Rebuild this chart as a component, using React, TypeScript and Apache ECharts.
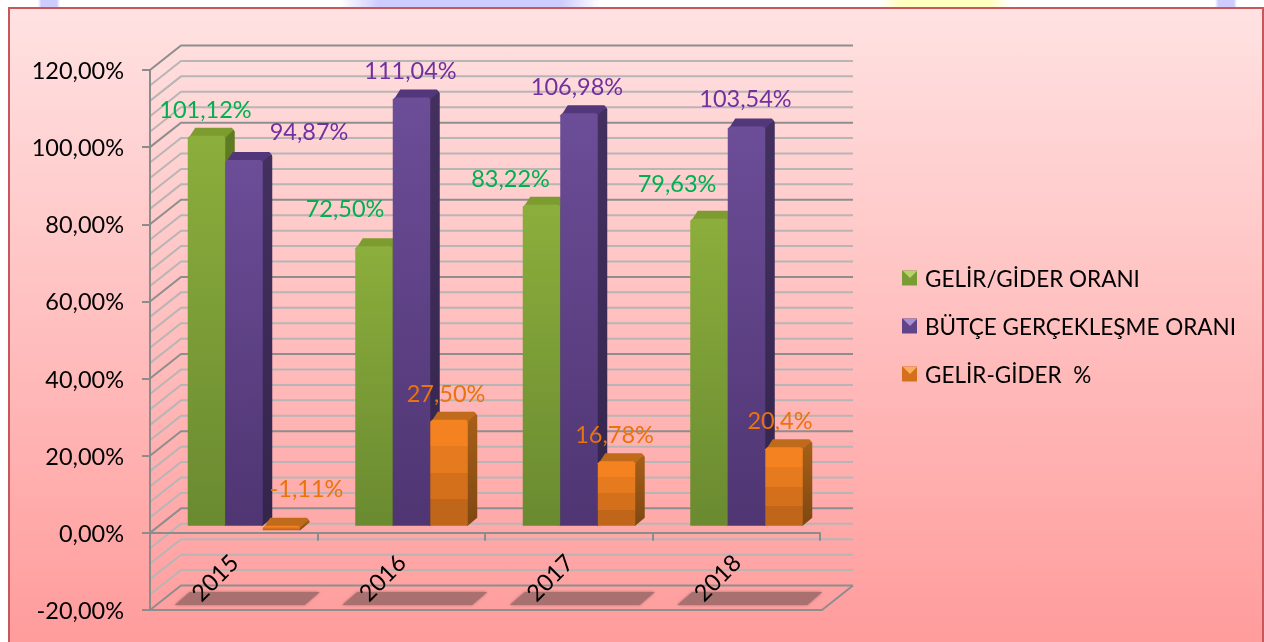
import React, { useEffect, useRef } from "react";
import * as echarts from "echarts";

const categories = ["2015", "2016", "2017", "2018"];
const ratioValues = [101.12, 72.5, 83.22, 79.63];
const budgetValues = [94.87, 111.04, 106.98, 103.54];
const diffValues = [-1.11, 27.5, 16.78, 20.4];
const ratioLabels = ["101,12%", "72,50%", "83,22%", "79,63%"];
const budgetLabels = ["94,87%", "111,04%", "106,98%", "103,54%"];
const diffLabels = ["-1,11%", "27,50%", "16,78%", "20,4%"];
const gridTicks = [-20, -16, -12, -8, -4, 0, 4, 8, 12, 16, 20, 24, 28, 32, 36, 40, 44, 48, 52, 56, 60, 64, 68, 72, 76, 80, 84, 88, 92, 96, 100, 104, 108, 112, 116, 120];

const FONT = "Lato, 'Noto Sans', sans-serif";
const FS = 23.5;
const WALL_DX = 31;
const WALL_DY = 24.5;
const BAR_W = 37.5;
const BAR_DX = 9.5;
const BAR_DY = 8;
const BAR_FRONT_SHIFT = 7;

const grad = (stops: [number, string][]) =>
  new echarts.graphic.LinearGradient(0, 0, 0, 1, stops.map(([offset, color]) => ({ offset, color })));

const band4 = (a: string, b: string, c: string, d: string) =>
  grad([[0, a], [0.25, a], [0.25, b], [0.5, b], [0.5, c], [0.75, c], [0.75, d], [1, d]]);

function barSeries(
  name: string,
  values: number[],
  labels: string[],
  offset: number,
  look: { front: () => any; top: string; side: () => any; text: string; legend: string },
  nudges: [number, number][]
) {
  return {
    name,
    type: "custom",
    z: 3 + offset / 1000,
    coordinateSystem: "cartesian2d",
    itemStyle: { color: look.legend },
    encode: { x: 0, y: 1 },
    data: values.map((v, i) => [i, v]),
    renderItem: (params: any, api: any) => {
      const i = api.value(0);
      const v = api.value(1);
      const base = api.coord([i, 0]);
      const tip = api.coord([i, v]);
      const x0 = base[0] + offset;
      const x1 = x0 + BAR_W;
      const yTop = Math.min(base[1], tip[1]) - BAR_FRONT_SHIFT;
      const yBot = Math.max(base[1], tip[1]) - BAR_FRONT_SHIFT;
      const labelY = tip[1] - BAR_FRONT_SHIFT;
      const h = yBot - yTop;
      const cc = Math.min(2, h / 2);
      const children: any[] = [
        {
          type: "polygon",
          shape: { points: [[x1 - 1, yTop], [x1 + BAR_DX - 1, yTop - BAR_DY + 2], [x1 + BAR_DX, yTop - BAR_DY + 4], [x1 + BAR_DX, yBot - BAR_DY], [x1, yBot], [x1 - 1, yBot]] },
          style: { fill: look.side() },
        },
        {
          type: "polygon",
          shape: { points: [[x0 + 1, yTop + cc], [x0 + BAR_DX - 2, yTop - BAR_DY], [x1 + BAR_DX - 3, yTop - BAR_DY], [x1 + BAR_DX - 1, yTop - BAR_DY + 2], [x1, yTop + cc]] },
          style: { fill: look.top },
        },
        {
          type: "polygon",
          shape: { points: [[x0, yTop + cc], [x0 + cc, yTop], [x1 - cc, yTop], [x1, yTop + cc], [x1, yBot], [x0, yBot]] },
          style: { fill: look.front() },
        },
        {
          type: "text",
          x: x0 + BAR_W / 2 + nudges[i][0],
          y: labelY + nudges[i][1],
          style: { text: labels[i], fill: look.text, font: `${FS}px ${FONT}`, align: "center", verticalAlign: "middle" },
        },
      ];
      return { type: "group", children };
    },
  };
}

const ratioLook = {
  front: () => grad([[0, "#8bae3c"], [1, "#6a8a30"]]),
  top: "#7c9c30",
  side: () => grad([[0, "#5f7c22"], [1, "#4d661c"]]),
  text: "#00b050",
  legend: "#7b9c35",
};
const budgetLook = {
  front: () => grad([[0, "#6c4d98"], [1, "#4f3572"]]),
  top: "#52377a",
  side: () => grad([[0, "#43305f"], [1, "#33254c"]]),
  text: "#7030a0",
  legend: "#5f4488",
};
const diffLook = {
  front: () => band4("#f58220", "#e67a1e", "#d4701c", "#c0661a"),
  top: "#c06a1c",
  side: () => grad([[0, "#a85f18"], [1, "#7e4812"]]),
  text: "#e8730f",
  legend: "#d4701c",
};

const ratioNudges: [number, number][] = [[-1, -27], [-29, -38], [-31, -27], [-32, -36]];
const budgetNudges: [number, number][] = [[65, -29], [-1, -28], [-2, -27], [-1, -28]];
const diffNudges: [number, number][] = [[25, -42], [-3, -27], [-2, -27], [-4, -27]];

const legendIcons = [
  { y: 270, light: "#b4d46a" },
  { y: 318, light: "#a48fd0" },
  { y: 366, light: "#f8ae5c" },
];

const fadeBand = (x: number, width: number, color: string) => ({
  type: "rect",
  z: 0,
  shape: { x, y: 0, width, height: 8 },
  style: {
    fill: new echarts.graphic.LinearGradient(0, 0, 1, 0, [
      { offset: 0, color: color + "00" },
      { offset: 0.15, color },
      { offset: 0.85, color },
      { offset: 1, color: color + "00" },
    ]),
  },
});

export default function App() {
  const ref = useRef<HTMLDivElement>(null);
  useEffect(() => {
    const chart = echarts.init(ref.current!, null, { renderer: "svg" });
    const graphicEls: any[] = [
      fadeBand(38, 22, "#ccccff"),
      fadeBand(340, 260, "#ccccff"),
      fadeBand(880, 130, "#ffffc0"),
      fadeBand(1215, 22, "#ccccff"),
      {
        type: "rect",
        z: 0,
        shape: { x: 9, y: 8, width: 1254, height: 650 },
        style: {
          fill: grad([[0, "#ffe2e2"], [1, "#ff9a9a"]]),
          stroke: "#c8565a",
          lineWidth: 2,
        },
      },
    ];
    legendIcons.forEach((ic) => {
      graphicEls.push({
        type: "polygon",
        z: 10,
        shape: { points: [[903, ic.y + 1], [917, ic.y + 1], [910, ic.y + 8]] },
        style: { fill: ic.light },
      });
    });
    chart.setOption({
      animation: false,
      grid: { left: 150, top: 70, width: 670, height: 540, outerBoundsMode: "none" },
      graphic: { elements: graphicEls },
      legend: {
        orient: "vertical",
        left: 902,
        top: 264,
        padding: 0,
        itemWidth: 15,
        itemHeight: 15,
        itemGap: 20,
        selectedMode: false,
        data: ["GELİR/GİDER ORANI", "BÜTÇE GERÇEKLEŞME ORANI", "GELİR-GİDER  %"].map((name) => ({ name, icon: "rect" })),
        textStyle: { fontFamily: FONT, fontSize: 22.5, color: "#000", lineHeight: 28, padding: [0, 0, 0, 3] },
      },
      xAxis: {
        type: "category",
        data: categories,
        z: 5,
        axisLine: { onZero: true, lineStyle: { color: "#8c8c8c", width: 2 } },
        axisTick: { show: true, length: 8, lineStyle: { color: "#8c8c8c", width: 2 } },
        axisLabel: { rotate: 45, margin: -52, color: "#000", fontFamily: FONT, fontSize: FS, interval: 0 },
      },
      yAxis: {
        type: "value",
        min: -20,
        max: 120,
        interval: 20,
        z: 5,
        splitLine: { show: false },
        axisLine: { show: true, lineStyle: { color: "#8c8c8c", width: 2 } },
        axisTick: { show: true, length: 8, lineStyle: { color: "#8c8c8c", width: 2 } },
        axisLabel: {
          margin: 26,
          color: "#000",
          fontFamily: FONT,
          fontSize: FS,
          formatter: (v: number) => v.toFixed(2).replace(".", ",") + "%",
        },
      },
      series: [
        {
          name: "walls",
          type: "custom",
          z: 1,
          data: gridTicks.map((v) => [0, v]),
          encode: { x: 0, y: 1 },
          renderItem: (params: any, api: any) => {
            const v = api.value(1);
            const y = api.coord([0, v])[1];
            const left = params.coordSys.x;
            const right = left + params.coordSys.width;
            const major = v % 20 === 0;
            const style = { stroke: major ? "#8e8e8e" : "#b9b5b5", lineWidth: 2, fill: "none" };
            const children: any[] = [
              {
                type: "polyline",
                shape: { points: [[left, y], [left + WALL_DX, y - WALL_DY], [right + WALL_DX + 2, y - WALL_DY]] },
                style,
              },
            ];
            if (v === -20) {
              children.push({
                type: "polyline",
                shape: { points: [[left, y], [right + 2, y], [right + WALL_DX + 2, y - WALL_DY]] },
                style,
              });
            }
            return { type: "group", children };
          },
        },
        {
          name: "shadows",
          type: "custom",
          z: 2,
          data: categories.map((_, i) => [i, -20]),
          encode: { x: 0, y: 1 },
          renderItem: (params: any, api: any) => {
            const [cx, y] = api.coord([api.value(0), -20]);
            return {
              type: "polygon",
              shape: { points: [[cx - 59, y - 5], [cx + 71, y - 5], [cx + 86, y - 18], [cx - 44, y - 18]] },
              style: { fill: "#a97070", shadowBlur: 3, shadowColor: "#a97070" },
            };
          },
        },
        barSeries("GELİR/GİDER ORANI", ratioValues, ratioLabels, -46, ratioLook, ratioNudges),
        barSeries("BÜTÇE GERÇEKLEŞME ORANI", budgetValues, budgetLabels, -8.5, budgetLook, budgetNudges),
        barSeries("GELİR-GİDER  %", diffValues, diffLabels, 29, diffLook, diffNudges),
      ],
    });
    return () => chart.dispose();
  }, []);
  return <div ref={ref} style={{ position: "fixed", left: 0, top: 0, width: 1264, height: 642 }} />;
}
